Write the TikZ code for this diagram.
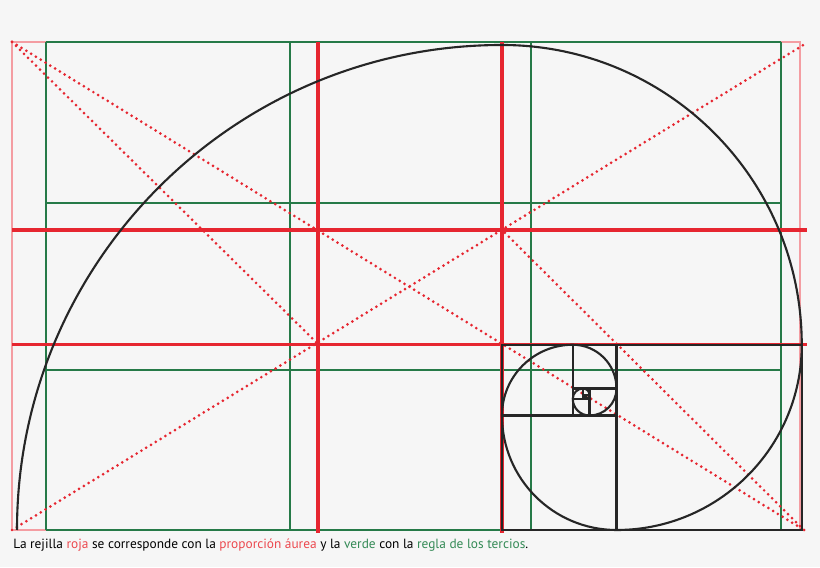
\documentclass[tikz,border=0pt]{standalone}
\usepackage{fontspec}
\setmainfont{PT Sans}
\definecolor{aurea}{RGB}{230,38,48}
\definecolor{tercio}{RGB}{38,122,72}
\definecolor{fondo}{RGB}{246,246,246}
\definecolor{rojotxt}{RGB}{236,72,78}
\definecolor{verdetxt}{RGB}{52,138,86}

\begin{document}
\begin{tikzpicture}[x=0.02cm,y=0.02cm]
    \tikzstyle{thinframe}=[draw=aurea!45,line width=0.6pt]
    \tikzstyle{thirds}=[draw=tercio,line width=1.1pt]
    \tikzstyle{golden}=[draw=aurea,line width=1.8pt]
    \tikzstyle{diag}=[draw=aurea,line width=1.7pt,dash pattern=on 0pt off 3.2pt,line cap=round]
    \tikzstyle{spiral}=[draw=black!85,line width=1.2pt]
    \tikzstyle{square}=[draw=black!85,line width=1.4pt]

    \useasboundingbox (0,0) rectangle (820,567);
    \fill[fondo] (0,0) rectangle (820,567);

    % outer frame
    \coordinate (tl) at (12,525);
    \coordinate (br) at (800,37);
    \draw[thinframe] (tl) rectangle (br);

    % rule of thirds
    \foreach \x in {46,290,531,781}
        \draw[thirds] (\x,525) -- (\x,37);
    \foreach \y in {525,364,197,37}
        \draw[thirds] (46,\y) -- (781,\y);

    % golden grid
    \foreach \x in {318,502}
        \draw[golden] (\x,525) -- (\x,34);
    \foreach \y in {337,222.5}
        \draw[golden] (12,\y) -- (807,\y);

    % diagonals
    \coordinate (bl) at (12,37);
    \coordinate (dr) at (804,37);
    \coordinate (ur) at (805,523);
    \coordinate (g2) at (502,337);
    \coordinate (g3) at (318,223);
    \draw[diag] (tl) -- (dr);
    \draw[diag] (bl) -- (ur);
    \draw[diag] (tl) -- (g3);
    \draw[diag] (dr) -- (g2);

    % spiral
    \draw[spiral] (17,37) coordinate (s0)
        \foreach \i [count=\n from 1] in {0,...,11} {
            arc[start angle=180-90*\i, end angle=90-90*\i, radius={485/1.618034^\i}]
            coordinate (s\n)
        };

    % squares
    \foreach \i [count=\j from 3] in {2,...,11}
        \draw[square] (s\i) rectangle (s\j);

    % caption
    \node[anchor=base west, inner sep=0pt, font=\fontsize{7.6}{9}\selectfont] (caption) at (13,18)
        {La rejilla \textcolor{rojotxt}{roja} se corresponde con la \textcolor{rojotxt}{proporción áurea} y la \textcolor{verdetxt}{verde} con la \textcolor{verdetxt}{regla de los tercios}.};

\end{tikzpicture}
\end{document}
